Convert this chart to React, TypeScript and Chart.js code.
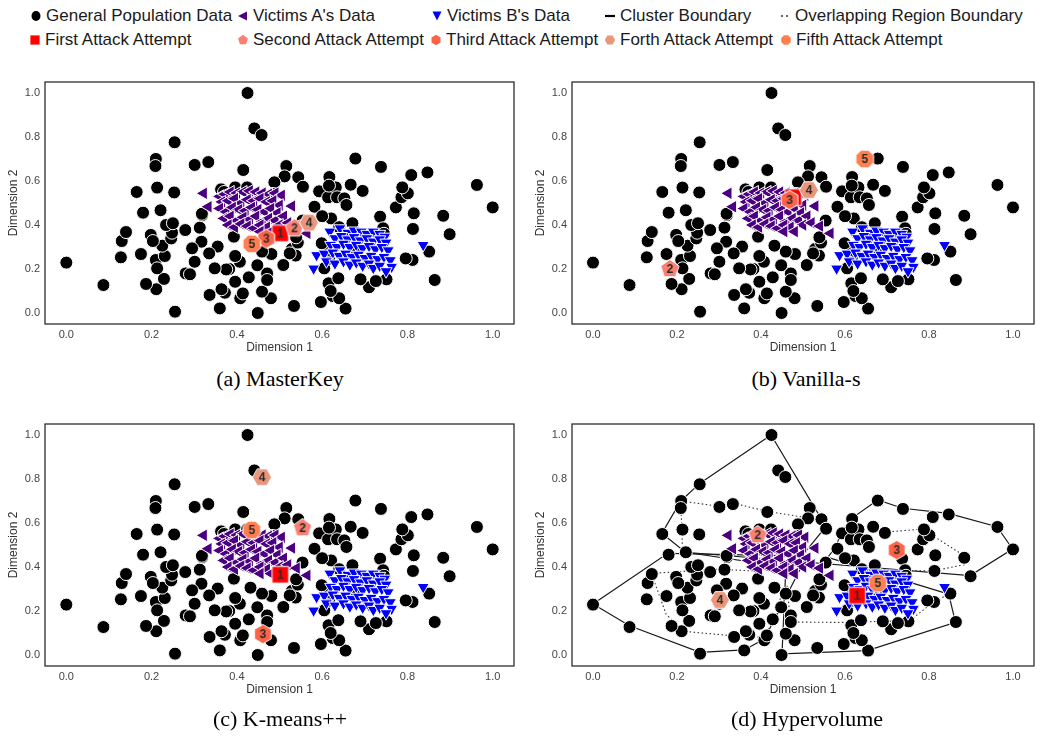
import React, { useEffect, useRef } from 'react';
import { Chart, registerables } from 'chart.js';

Chart.register(...registerables);

type Pt = [number, number];

// ---------------- DATA ----------------
const generalPopulation: Pt[] = [
  [0.425, 1.0], [0.441, 0.839], [0.458, 0.809], [0.254, 0.776], [0.21, 0.70], [0.209, 0.668],
  [0.301, 0.673], [0.333, 0.686], [0.415, 0.65], [0.516, 0.668], [0.512, 0.621], [0.544, 0.617],
  [0.555, 0.574], [0.488, 0.594], [0.678, 0.702], [0.738, 0.664], [0.809, 0.627], [0.847, 0.639],
  [0.963, 0.582], [1.0, 0.48], [0.617, 0.618], [0.593, 0.553], [0.632, 0.571], [0.667, 0.583],
  [0.695, 0.555], [0.614, 0.526], [0.635, 0.526], [0.652, 0.521], [0.657, 0.491], [0.582, 0.483],
  [0.621, 0.43], [0.671, 0.408], [0.736, 0.438], [0.773, 0.48], [0.786, 0.526], [0.801, 0.544],
  [0.788, 0.571], [0.815, 0.453], [0.813, 0.382], [0.884, 0.442], [0.899, 0.358], [0.851, 0.279],
  [0.812, 0.241], [0.796, 0.248], [0.864, 0.15], [0.751, 0.153], [0.71, 0.117], [0.726, 0.145],
  [0.69, 0.153], [0.655, 0.02], [0.597, 0.05], [0.625, 0.077], [0.64, 0.067], [0.615, 0.135],
  [0.638, 0.158], [0.605, 0.203], [0.534, 0.032], [0.48, 0.067], [0.459, 0.097], [0.471, 0.18],
  [0.471, 0.15], [0.449, 0.0], [0.408, 0.067], [0.414, 0.089], [0.372, 0.092], [0.364, 0.108],
  [0.336, 0.082], [0.36, 0.021], [0.255, 0.006], [0.396, 0.142], [0.428, 0.162], [0.382, 0.2],
  [0.375, 0.198], [0.407, 0.233], [0.396, 0.259], [0.448, 0.217], [0.509, 0.218], [0.481, 0.268],
  [0.459, 0.279], [0.432, 0.306], [0.393, 0.347], [0.529, 0.291], [0.538, 0.261], [0.524, 0.271],
  [0.543, 0.32], [0.539, 0.344], [0.355, 0.302], [0.335, 0.271], [0.317, 0.324], [0.295, 0.294],
  [0.301, 0.233], [0.348, 0.203], [0.313, 0.388], [0.319, 0.445], [0.279, 0.377], [0.28, 0.18],
  [0.29, 0.176], [0.229, 0.155], [0.211, 0.108], [0.187, 0.132], [0.087, 0.127], [0.0, 0.229],
  [0.128, 0.253], [0.175, 0.268], [0.21, 0.241], [0.213, 0.203], [0.231, 0.259], [0.225, 0.306],
  [0.198, 0.355], [0.203, 0.327], [0.246, 0.339], [0.248, 0.365], [0.234, 0.4], [0.25, 0.408],
  [0.13, 0.327], [0.14, 0.368], [0.18, 0.456], [0.221, 0.467], [0.165, 0.55], [0.213, 0.57],
  [0.253, 0.548], [0.363, 0.562], [0.396, 0.571], [0.37, 0.55], [0.424, 0.571], [0.485, 0.541],
  [0.616, 0.579], [0.675, 0.286], [0.743, 0.385], [0.616, 0.247], [0.612, 0.286], [0.599, 0.317],
  [0.318, 0.451], [0.6, 0.44], [0.64, 0.39], [0.745, 0.36], [0.62, 0.1], [0.554, 0.42],
];

const victimsA: Pt[] = [
  [0.322, 0.544], [0.333, 0.483], [0.36, 0.53], [0.372, 0.54], [0.385, 0.55], [0.4, 0.545],
  [0.415, 0.55], [0.43, 0.555], [0.445, 0.55], [0.46, 0.545], [0.475, 0.54], [0.49, 0.545],
  [0.505, 0.535], [0.365, 0.505], [0.38, 0.51], [0.395, 0.52], [0.41, 0.5], [0.425, 0.515],
  [0.44, 0.51], [0.455, 0.52], [0.47, 0.505], [0.485, 0.51], [0.5, 0.49], [0.529, 0.486],
  [0.36, 0.475], [0.375, 0.46], [0.39, 0.48], [0.405, 0.47], [0.42, 0.465], [0.435, 0.48],
  [0.45, 0.47], [0.465, 0.46], [0.48, 0.475], [0.495, 0.455], [0.37, 0.43], [0.385, 0.44],
  [0.4, 0.42], [0.415, 0.435], [0.43, 0.425], [0.445, 0.44], [0.46, 0.415], [0.475, 0.43],
  [0.49, 0.42], [0.51, 0.44], [0.38, 0.4], [0.395, 0.39], [0.41, 0.405], [0.425, 0.395],
  [0.44, 0.385], [0.455, 0.4], [0.47, 0.39], [0.5, 0.4], [0.52, 0.41], [0.54, 0.395],
  [0.565, 0.362], [0.48, 0.37], [0.455, 0.37],
];

const victimsB: Pt[] = [
  [0.618, 0.37], [0.642, 0.385], [0.66, 0.365], [0.675, 0.375], [0.692, 0.37], [0.705, 0.36],
  [0.72, 0.37], [0.735, 0.36], [0.747, 0.347], [0.63, 0.34], [0.645, 0.35], [0.66, 0.335],
  [0.675, 0.345], [0.69, 0.33], [0.705, 0.34], [0.72, 0.325], [0.735, 0.335], [0.75, 0.32],
  [0.62, 0.31], [0.635, 0.3], [0.65, 0.315], [0.665, 0.3], [0.68, 0.31], [0.695, 0.295],
  [0.71, 0.305], [0.725, 0.29], [0.74, 0.3], [0.755, 0.285], [0.587, 0.263], [0.605, 0.27],
  [0.625, 0.275], [0.64, 0.26], [0.655, 0.27], [0.67, 0.255], [0.685, 0.265], [0.7, 0.25],
  [0.715, 0.26], [0.73, 0.245], [0.745, 0.255], [0.76, 0.24], [0.58, 0.202], [0.61, 0.235],
  [0.63, 0.225], [0.65, 0.235], [0.665, 0.22], [0.68, 0.23], [0.695, 0.215], [0.71, 0.225],
  [0.72, 0.205], [0.735, 0.215], [0.763, 0.21], [0.837, 0.309], [0.75, 0.19],
];

// attack attempts 1..5 per method
const masterKeyAttacks: Pt[] = [[0.502, 0.362], [0.535, 0.385], [0.469, 0.338], [0.569, 0.411], [0.435, 0.314]];
const vanillaAttacks: Pt[] = [[0.477, 0.526], [0.183, 0.2], [0.468, 0.514], [0.514, 0.559], [0.647, 0.7]];
const kmeansAttacks: Pt[] = [[0.502, 0.365], [0.554, 0.577], [0.461, 0.095], [0.459, 0.808], [0.435, 0.568]];
const hypervolumeAttacks: Pt[] = [[0.629, 0.27], [0.392, 0.545], [0.723, 0.477], [0.302, 0.25], [0.678, 0.327]];
const attackNumbers = ['1', '2', '3', '4', '5'];

const clusterBoundaries: Pt[][] = [
  [[0.424, 1.0], [0.254, 0.78], [0.209, 0.7], [0.164, 0.553], [0.22, 0.467], [0.474, 0.395], [0.553, 0.58], [0.544, 0.618], [0.52, 0.694], [0.424, 1.0]],
  [[0.22, 0.467], [0.898, 0.361], [0.999, 0.482], [0.962, 0.583], [0.846, 0.644], [0.737, 0.667], [0.678, 0.705], [0.616, 0.621], [0.59, 0.556], [0.579, 0.494], [0.559, 0.444], [0.847, 0.277]],
  [[0.847, 0.277], [0.863, 0.148], [0.653, 0.02], [0.45, 0.005], [0.458, 0.345], [0.474, 0.395]],
  [[0.509, 0.449], [0.178, 0.462], [0.0, 0.232], [0.087, 0.133], [0.255, 0.012], [0.36, 0.023], [0.408, 0.073], [0.509, 0.449]],
];

const overlapBoundaries: Pt[][] = [
  [[0.213, 0.487], [0.209, 0.7], [0.3, 0.676], [0.332, 0.691], [0.414, 0.653], [0.509, 0.624], [0.52, 0.6]],
  [[0.4, 0.38], [0.3, 0.39], [0.206, 0.379], [0.139, 0.371], [0.174, 0.186], [0.213, 0.108], [0.33, 0.088], [0.408, 0.08], [0.44, 0.2], [0.45, 0.3]],
  [[0.462, 0.315], [0.47, 0.15], [0.59, 0.148], [0.692, 0.153], [0.754, 0.156], [0.81, 0.24], [0.85, 0.28]],
  [[0.694, 0.558], [0.785, 0.573], [0.815, 0.535], [0.883, 0.452], [0.883, 0.41], [0.812, 0.383], [0.715, 0.383], [0.67, 0.4]],
];

const axisTicks = [0, 0.2, 0.4, 0.6, 0.8, 1.0];

// ---------------- STYLE ----------------
const SANS = "'Liberation Sans', Arial, sans-serif";
const SERIF = "'Liberation Serif', 'Times New Roman', serif";
const PURPLE = '#4B0082';
const BLUE = '#0000FF';
const attackStyles = [
  { shape: 'square', color: '#FF0000' },
  { shape: 'pentagon', color: '#FA8072' },
  { shape: 'hexagon', color: '#FF6347' },
  { shape: 'hexagon2', color: '#E9967A' },
  { shape: 'octagon', color: '#FF7F50' },
];

function polyPoints(cx: number, cy: number, r: number, n: number, start: number): Pt[] {
  const out: Pt[] = [];
  for (let i = 0; i < n; i++) {
    const a = start + (i * 2 * Math.PI) / n;
    out.push([cx + r * Math.cos(a), cy + r * Math.sin(a)]);
  }
  return out;
}

function shapePoints(shape: string, cx: number, cy: number, r: number): Pt[] {
  if (shape === 'square') {
    const h = r * 0.92;
    return [[cx - h, cy - h], [cx + h, cy - h], [cx + h, cy + h], [cx - h, cy + h]];
  }
  if (shape === 'pentagon') return polyPoints(cx, cy, r, 5, -Math.PI / 2);
  if (shape === 'hexagon') return polyPoints(cx, cy, r, 6, -Math.PI / 2);
  if (shape === 'hexagon2') return polyPoints(cx, cy, r, 6, 0);
  return polyPoints(cx, cy, r, 8, Math.PI / 8);
}

function makeAttackMarker(shape: string, color: string, label: string): HTMLCanvasElement {
  const c = document.createElement('canvas');
  c.width = 24;
  c.height = 24;
  const ctx = c.getContext('2d')!;
  const pts = shapePoints(shape, 12, 12, shape === 'square' ? 9 : 9.6);
  ctx.beginPath();
  pts.forEach(([x, y], i) => (i ? ctx.lineTo(x, y) : ctx.moveTo(x, y)));
  ctx.closePath();
  ctx.fillStyle = color;
  ctx.fill();
  ctx.strokeStyle = '#ffffff';
  ctx.lineWidth = 1;
  ctx.stroke();
  ctx.fillStyle = '#2b2b2b';
  ctx.font = `bold 12px ${SANS}`;
  ctx.textAlign = 'center';
  ctx.textBaseline = 'middle';
  ctx.fillText(label, 12, 12.5);
  return c;
}

const framePlugin = {
  id: 'frame',
  afterDraw(chart: any) {
    const { left, top, right, bottom } = chart.chartArea;
    const ctx = chart.ctx;
    ctx.save();
    ctx.strokeStyle = '#262626';
    ctx.lineWidth = 1.25;
    ctx.strokeRect(left, top, right - left, bottom - top);
    ctx.restore();
  },
};

const toXY = (p: Pt[]) => p.map(([x, y]) => ({ x, y }));

function buildConfig(attacks: Pt[], withBoundaries: boolean, padRight: number): any {
  const datasets: any[] = [];
  if (withBoundaries) {
    clusterBoundaries.forEach((poly) =>
      datasets.push({
        data: toXY(poly), showLine: true, pointRadius: 0, borderColor: '#1a1a1a',
        borderWidth: 1.2, fill: false, order: 20,
      })
    );
    overlapBoundaries.forEach((poly) =>
      datasets.push({
        data: toXY(poly), showLine: true, pointRadius: 0, borderColor: '#333333',
        borderWidth: 1.1, borderDash: [1.5, 2.5], fill: false, order: 19,
      })
    );
  }
  datasets.push({
    data: toXY(generalPopulation), pointStyle: 'circle', pointRadius: 6.5,
    pointBackgroundColor: '#000000', pointBorderColor: '#ffffff', pointBorderWidth: 1, order: 15,
  });
  datasets.push({
    data: toXY(victimsA), pointStyle: 'triangle', pointRotation: -90, pointRadius: 7.5,
    pointBackgroundColor: PURPLE, pointBorderColor: '#ffffff', pointBorderWidth: 1, order: 14,
  });
  datasets.push({
    data: toXY(victimsB), pointStyle: 'triangle', pointRotation: 180, pointRadius: 7,
    pointBackgroundColor: BLUE, pointBorderColor: '#ffffff', pointBorderWidth: 1, order: 13,
  });
  attacks.forEach((p, i) =>
    datasets.push({
      data: toXY([p]),
      pointStyle: makeAttackMarker(attackStyles[i].shape, attackStyles[i].color, attackNumbers[i]),
      pointRadius: 10, order: 10 - i,
    })
  );

  const tickCfg = {
    font: { size: 11, family: SANS }, color: '#444444',
    callback: (v: any) => Number(v).toFixed(1),
  };
  return {
    type: 'scatter',
    data: { datasets },
    options: {
      responsive: false, animation: false, events: [],
      layout: { padding: { top: 12, right: padRight, left: 0, bottom: 0 } },
      plugins: { legend: { display: false }, tooltip: { enabled: false } },
      scales: {
        x: {
          type: 'linear', min: -0.05, max: 1.05,
          afterBuildTicks: (s: any) => { s.ticks = axisTicks.map((value) => ({ value })); },
          afterFit: (s: any) => { s.height = 41; },
          grid: { display: false, drawTicks: false, tickLength: 0 }, border: { display: false },
          ticks: { ...tickCfg, padding: 4, maxRotation: 0 },
          title: { display: true, text: 'Dimension 1', font: { size: 12, family: SANS }, color: '#333333', padding: { top: 0, bottom: 10 } },
        },
        y: {
          type: 'linear', min: -0.05, max: 1.05,
          afterBuildTicks: (s: any) => { s.ticks = axisTicks.map((value) => ({ value })); },
          afterFit: (s: any) => { s.width = 45; },
          grid: { display: false, drawTicks: false, tickLength: 0 }, border: { display: false },
          ticks: { ...tickCfg, padding: 5 },
          title: { display: true, text: 'Dimension 2', font: { size: 12, family: SANS }, color: '#333333', padding: { top: 6, bottom: 0 } },
        },
      },
    },
    plugins: [framePlugin],
  };
}

function Panel(props: { left: number; top: number; width: number; padRight: number; attacks: Pt[]; boundaries: boolean; caption: string; captionX: number; captionY: number }) {
  const ref = useRef<HTMLCanvasElement>(null);
  const H = 295;
  useEffect(() => {
    const chart = new Chart(ref.current as HTMLCanvasElement, buildConfig(props.attacks, props.boundaries, props.padRight));
    return () => chart.destroy();
  }, []);
  return (
    <>
      <div style={{ position: 'absolute', left: props.left, top: props.top, width: props.width, height: H }}>
        <canvas ref={ref} width={props.width} height={H} style={{ width: props.width, height: H, display: 'block' }} />
      </div>
      <div style={{
        position: 'absolute', left: props.captionX - 150, top: props.captionY - 13, width: 300,
        textAlign: 'center', fontFamily: SERIF, fontSize: 22, lineHeight: '26px', color: '#000',
      }}>{props.caption}</div>
    </>
  );
}

// ---------------- LEGEND ----------------
const legendRow1 = ['General Population Data', "Victims A's Data", "Victims B's Data", 'Cluster Boundary', 'Overlapping Region Boundary'];
const legendRow2 = ['First Attack Attempt', 'Second Attack Attempt', 'Third Attack Attempt', 'Forth Attack Attempt', 'Fifth Attack Attempt'];

function ptsStr(p: Pt[]) {
  return p.map(([x, y]) => `${x.toFixed(2)},${y.toFixed(2)}`).join(' ');
}

function LegendMarker({ kind }: { kind: string }) {
  let el: any = null;
  if (kind === 'circle') el = <ellipse cx={8} cy={8} rx={4.5} ry={5} fill="#000" />;
  else if (kind === 'left') el = <polygon points="3,8 12,3.5 12,12.5" fill={PURPLE} />;
  else if (kind === 'down') el = <polygon points="3.5,3.5 12.5,3.5 8,12.5" fill={BLUE} />;
  else if (kind === 'dash') el = <line x1={3} y1={8} x2={13} y2={8} stroke="#000" strokeWidth={2.2} />;
  else if (kind === 'dots') el = <g fill="#333"><circle cx={5} cy={8} r={1} /><circle cx={10} cy={8} r={1} /></g>;
  else {
    const st = attackStyles[Number(kind)];
    el = <polygon points={ptsStr(shapePoints(st.shape, 8, 8, st.shape === 'square' ? 5 : 5.2))} fill={st.color} />;
  }
  return <svg width={16} height={16} style={{ display: 'block' }}>{el}</svg>;
}

function LegendItem({ x, y, kind, text }: { x: number; y: number; kind: string; text: string }) {
  return (
    <>
      <div style={{ position: 'absolute', left: x - 8, top: y - 8 }}><LegendMarker kind={kind} /></div>
      <div style={{ position: 'absolute', left: x + 10, top: y - 11, fontFamily: SANS, fontSize: 17, lineHeight: '22px', color: '#1a1a1a', whiteSpace: 'nowrap' }}>{text}</div>
    </>
  );
}

export default function App() {
  const cols1 = [36, 243, 437, 610, 785];
  const cols2 = [35, 243, 436, 610, 786];
  const kinds1 = ['circle', 'left', 'down', 'dash', 'dots'];
  return (
    <div style={{ position: 'absolute', left: 0, top: 0, width: 1045, height: 736, background: '#fff', overflow: 'hidden' }}>
      {legendRow1.map((t, i) => <LegendItem key={'a' + i} x={cols1[i]} y={16} kind={kinds1[i]} text={t} />)}
      {legendRow2.map((t, i) => <LegendItem key={'b' + i} x={cols2[i]} y={40} kind={String(i)} text={t} />)}
      <Panel left={0} top={70} width={525} padRight={8} attacks={masterKeyAttacks} boundaries={false} caption="(a) MasterKey" captionX={280} captionY={379} />
      <Panel left={527} top={70} width={518} padRight={5} attacks={vanillaAttacks} boundaries={false} caption="(b) Vanilla-s" captionX={806} captionY={379} />
      <Panel left={0} top={412} width={525} padRight={8} attacks={kmeansAttacks} boundaries={false} caption="(c) K-means++" captionX={280} captionY={719} />
      <Panel left={527} top={412} width={518} padRight={5} attacks={hypervolumeAttacks} boundaries={true} caption="(d) Hypervolume" captionX={807} captionY={719} />
    </div>
  );
}
